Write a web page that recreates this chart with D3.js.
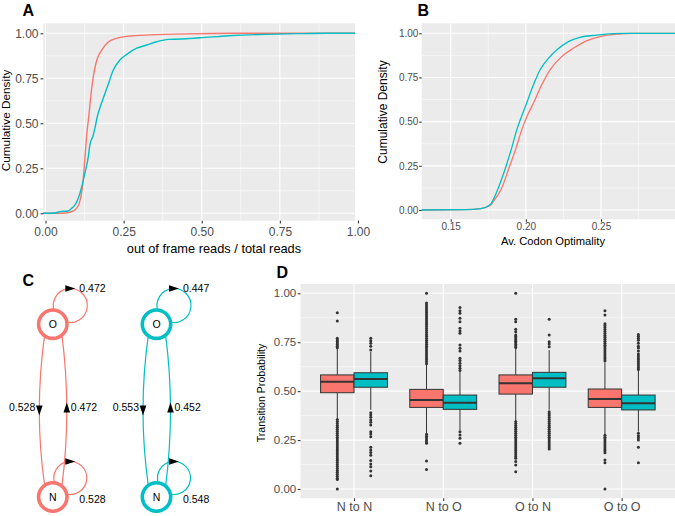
<!DOCTYPE html>
<html><head><meta charset="utf-8">
<script src="https://cdn.jsdelivr.net/npm/d3@7"></script>
<style>body{margin:0;background:#fff}svg{display:block}text{font-family:"Liberation Sans",Arial,Helvetica,sans-serif}</style>
</head><body><svg id="c" width="675" height="516"></svg>
<script>
// ---------- DATA ----------
// Panel A: CDF of out-of-frame reads / total reads  [x, cumulative density]
const oofRed = [[-0.01,0],[0.04,0],[0.07,0.003],[0.078,0.006],[0.094,0.018],[0.108,0.055],[0.116,0.12],[0.121,0.194],[0.126,0.305],[0.132,0.435],[0.139,0.546],[0.145,0.65],[0.153,0.76],[0.164,0.85],[0.18,0.907],[0.2,0.95],[0.228,0.972],[0.27,0.985],[0.334,0.991],[0.45,0.997],[0.6,1.0],[1.05,1.0]];
const oofTeal = [[-0.01,0],[0.03,0.002],[0.046,0.009],[0.073,0.013],[0.084,0.028],[0.094,0.046],[0.105,0.083],[0.116,0.148],[0.126,0.222],[0.137,0.315],[0.142,0.38],[0.153,0.435],[0.158,0.472],[0.167,0.546],[0.177,0.6],[0.185,0.64],[0.2,0.713],[0.217,0.796],[0.238,0.852],[0.26,0.883],[0.292,0.917],[0.324,0.935],[0.356,0.953],[0.393,0.966],[0.43,0.968],[0.494,0.975],[0.6,0.988],[0.708,0.994],[0.81,0.998],[0.9,1.0],[1.05,1.0]];
// Panel B: CDF of average codon optimality
const optRed = [[0.13,0],[0.16,0.002],[0.17,0.008],[0.176,0.024],[0.1783,0.047],[0.1839,0.123],[0.1883,0.226],[0.1934,0.349],[0.1976,0.462],[0.2008,0.53],[0.205,0.604],[0.2105,0.707],[0.216,0.792],[0.2238,0.868],[0.2316,0.915],[0.2404,0.957],[0.2493,0.981],[0.2626,0.996],[0.27,1.0],[0.3,1.0]];
const optTeal = [[0.13,0],[0.16,0.002],[0.17,0.008],[0.176,0.028],[0.1816,0.123],[0.186,0.226],[0.1905,0.349],[0.194,0.455],[0.1972,0.53],[0.2005,0.604],[0.205,0.707],[0.2094,0.792],[0.215,0.858],[0.2205,0.905],[0.2283,0.953],[0.236,0.977],[0.2471,0.99],[0.258,0.998],[0.265,1.0],[0.3,1.0]];
const cdfTicks = [0, 0.25, 0.5, 0.75, 1];
const oofTicks = [0, 0.25, 0.5, 0.75, 1];
const optTicks = [0.15, 0.2, 0.25];

// Panel C: Markov transition probabilities  (O->O, O->N, N->O, N->N)
const transNames = ["OO","ON","NO","NN"];
const redProb  = [0.472, 0.528, 0.472, 0.528];
const tealProb = [0.447, 0.553, 0.452, 0.548];
const stateNames = ["O","N"];

// Panel D: boxplots of transition probability
const cats = ["N to N","N to O","O to N","O to O"];
const redLo  = [0.36, 0.285, 0.35, 0.28];
const redQ1  = [0.492, 0.417, 0.485, 0.417];
const redMed = [0.548, 0.455, 0.54, 0.46];
const redQ3  = [0.583, 0.509, 0.583, 0.511];
const redHi  = [0.72, 0.635, 0.72, 0.648];
const tealLo  = [0.405, 0.30, 0.405, 0.293];
const tealQ1  = [0.52, 0.407, 0.52, 0.404];
const tealMed = [0.562, 0.441, 0.566, 0.438];
const tealQ3  = [0.594, 0.48, 0.596, 0.48];
const tealHi  = [0.70, 0.60, 0.71, 0.605];
const redOut = [
  [0.9,0.858,0.77,0.762,0.754,0.746,0.738,0.73,0.722,
   0.355,0.345,0.335,0.325,0.315,0.305,0.295,0.285,0.275,0.265,0.255,0.245,0.235,0.225,0.215,0.205,0.195,0.185,0.175,0.165,0.155,0.145,0.135,0.125,0.115,0.105,0.095,0.085,0.075,0.065,0.055,0.048,0.0],
  [1.0,0.95,0.94,0.93,0.92,0.91,0.9,0.89,0.88,0.87,0.86,0.85,0.84,0.83,0.82,0.81,0.8,0.79,0.78,0.77,0.76,0.75,0.74,0.73,0.72,0.71,0.7,0.69,0.68,0.67,0.66,0.65,0.64,
   0.28,0.27,0.26,0.25,0.24,0.234,0.143,0.10],
  [1.0,0.867,0.855,0.816,0.804,0.787,0.779,0.771,0.763,0.755,0.747,0.739,0.731,0.723,
   0.345,0.335,0.325,0.315,0.305,0.295,0.285,0.275,0.265,0.255,0.245,0.235,0.225,0.215,0.205,0.195,0.185,0.175,0.165,0.157,0.14,0.123,0.088],
  [0.911,0.889,0.845,0.835,0.825,0.815,0.805,0.795,0.785,0.775,0.765,0.755,0.745,0.735,0.725,0.715,0.705,0.695,0.685,0.675,0.665,0.655,
   0.275,0.265,0.255,0.245,0.235,0.225,0.215,0.205,0.195,0.185,0.148,0.134,0.0]
];
const tealOut = [
  [0.77,0.758,0.745,0.73,0.71,
   0.39,0.378,0.366,0.353,0.341,0.327,0.293,0.281,0.267,0.213,0.199,0.186,0.172,0.145,0.128,0.114,0.092,0.068],
  [0.928,0.911,0.898,0.872,0.855,0.821,0.807,0.796,0.736,0.719,0.705,0.668,0.656,0.642,0.63,0.617,0.605,
   0.293,0.276,0.259,0.234],
  [0.867,0.787,0.753,0.741,0.727,
   0.395,0.385,0.375,0.365,0.355,0.345,0.335,0.325,0.315,0.305,0.295,0.285,0.275,0.265,0.255,0.245,0.235,0.225,0.215,0.205],
  [0.79,0.78,0.77,0.76,0.745,0.73,0.72,0.705,0.69,0.68,0.67,0.66,0.65,0.64,0.63,0.62,0.61,
   0.285,0.272,0.262,0.25,0.213,0.134]
];
const probTicks = [0, 0.25, 0.5, 0.75, 1];

// ---------- STYLE ----------
const RED = "#F8766D", TEAL = "#00BFC4", BG = "#EBEBEB", TXT = "#4D4D4D", TCK = "#333333";
const fmt2 = d3.format(".2f"), fmt3 = d3.format(".3f");
const svg = d3.select("#c");
const defs = svg.append("defs");

function clip(id, r) {
  defs.append("clipPath").attr("id", id).append("rect")
    .attr("x", r.x0).attr("y", r.y0).attr("width", r.x1 - r.x0).attr("height", r.y1 - r.y0);
}
function panelBg(r, clipId, xs, ys, xMaj, xMin, yMaj, yMin) {
  svg.append("rect").attr("x", r.x0).attr("y", r.y0).attr("width", r.x1 - r.x0).attr("height", r.y1 - r.y0).attr("fill", BG);
  const g = svg.append("g").attr("clip-path", `url(#${clipId})`);
  g.selectAll(null).data(yMin).join("line").attr("x1", r.x0).attr("x2", r.x1).attr("y1", d => ys(d)).attr("y2", d => ys(d)).attr("stroke", "#fff").attr("stroke-width", 0.55);
  g.selectAll(null).data(xMin).join("line").attr("y1", r.y0).attr("y2", r.y1).attr("x1", d => xs(d)).attr("x2", d => xs(d)).attr("stroke", "#fff").attr("stroke-width", 0.55);
  g.selectAll(null).data(yMaj).join("line").attr("x1", r.x0).attr("x2", r.x1).attr("y1", d => ys(d)).attr("y2", d => ys(d)).attr("stroke", "#fff").attr("stroke-width", 1.1);
  g.selectAll(null).data(xMaj).join("line").attr("y1", r.y0).attr("y2", r.y1).attr("x1", d => xs(d)).attr("x2", d => xs(d)).attr("stroke", "#fff").attr("stroke-width", 1.1);
  return g;
}
function styleAxis(g, fs) {
  g.attr("font-family", null).attr("font-size", null);
  g.select(".domain").remove();
  g.selectAll(".tick line").attr("stroke", TCK).attr("stroke-width", 1.07);
  g.selectAll(".tick text").attr("fill", TXT).style("font-size", fs + "px")
    .style("font-family", '"Liberation Sans",Arial,Helvetica,sans-serif');
}
function label(txt, x, y, fs, opts = {}) {
  const t = svg.append("text").attr("x", x).attr("y", y).text(txt).style("font-size", fs + "px")
    .attr("text-anchor", opts.anchor || "middle").attr("fill", opts.fill || "#000");
  if (opts.bold) t.style("font-weight", "bold");
  if (opts.rot) t.attr("transform", `rotate(-90,${x},${y})`);
  return t;
}

// ---------- PANEL A ----------
const rA = {x0: 43.3, y0: 23.3, x1: 355, y1: 220.7};
const xA = d3.scaleLinear().domain([0, 1]).range([45.5, 358]);
const yA = d3.scaleLinear().domain([0, 1]).range([213.3, 33.3]);
clip("clipA", rA);
const gA = panelBg(rA, "clipA", xA, yA, oofTicks, [0.125, 0.375, 0.625, 0.875], cdfTicks, [0.125, 0.375, 0.625, 0.875]);
const lineA = d3.line().x(d => xA(d[0])).y(d => yA(d[1])).curve(d3.curveMonotoneX);
gA.append("path").attr("d", lineA(oofRed)).attr("fill", "none").attr("stroke", RED).attr("stroke-width", 1.4);
gA.append("path").attr("d", lineA(oofTeal)).attr("fill", "none").attr("stroke", TEAL).attr("stroke-width", 1.4);
svg.append("g").attr("transform", `translate(${rA.x0},0)`)
  .call(d3.axisLeft(yA).tickValues(cdfTicks).tickFormat(fmt2).tickSize(2.75).tickPadding(2)).call(g => styleAxis(g, 12));
svg.append("g").attr("transform", `translate(0,${rA.y1})`)
  .call(d3.axisBottom(xA).tickValues(oofTicks).tickFormat(fmt2).tickSize(2.75).tickPadding(4)).call(g => styleAxis(g, 12));
label("out of frame reads / total reads", 214, 253, 12.8);
label("Cumulative Density", 9.5, 120.5, 11.8, {rot: true});
label("A", 22.5, 15.5, 16, {anchor: "start", bold: true});

// ---------- PANEL B ----------
const rB = {x0: 421.7, y0: 23.3, x1: 675, y1: 219.3};
const xB = d3.scaleLinear().domain([0.15, 0.25]).range([450.7, 601]);
const yB = d3.scaleLinear().domain([0, 1]).range([210, 33.3]);
clip("clipB", rB);
const gB = panelBg(rB, "clipB", xB, yB, [0.15, 0.2, 0.25, 0.3], [0.125, 0.175, 0.225, 0.275], cdfTicks, [0.125, 0.375, 0.625, 0.875]);
const lineB = d3.line().x(d => xB(d[0])).y(d => yB(d[1])).curve(d3.curveMonotoneX);
gB.append("path").attr("d", lineB(optRed)).attr("fill", "none").attr("stroke", RED).attr("stroke-width", 1.3);
gB.append("path").attr("d", lineB(optTeal)).attr("fill", "none").attr("stroke", TEAL).attr("stroke-width", 1.3);
svg.append("g").attr("transform", `translate(${rB.x0},0)`)
  .call(d3.axisLeft(yB).tickValues(cdfTicks).tickFormat(fmt2).tickSize(2.5).tickPadding(0.8)).call(g => styleAxis(g, 10));
svg.append("g").attr("transform", `translate(0,${rB.y1})`)
  .call(d3.axisBottom(xB).tickValues(optTicks).tickFormat(fmt2).tickSize(2.5).tickPadding(1.2)).call(g => styleAxis(g, 10));
label("Av. Codon Optimality", 553, 245, 11.2);
label("Cumulative Density", 386.5, 112, 12, {rot: true});
label("B", 417.5, 15.5, 16, {anchor: "start", bold: true});

// ---------- PANEL C ----------
label("C", 22.5, 285.5, 16, {anchor: "start", bold: true});
const gC = svg.append("g");
const chains = [{cx: 52.8, col: RED, p: redProb}, {cx: 156.5, col: TEAL, p: tealProb}];
const yO = 324.2, yN = 497;
const nodeY = {O: yO, N: yN};
const arrow = "M5,0 L-5,-3.3 L-5,3.3 Z";
chains.forEach(ch => {
  const cx = ch.cx, pr = {};
  transNames.forEach((n, i) => pr[n] = ch.p[i]);
  const g = gC.append("g");
  const midY = (yO + yN) / 2;
  g.append("path").attr("d", `M${cx - 8},${yO + 10} Q${cx - 19},${midY} ${cx - 8},${yN - 10}`).attr("fill", "none").attr("stroke", ch.col).attr("stroke-width", 1.2);
  g.append("path").attr("d", `M${cx + 9},${yN - 10} Q${cx + 19},${midY} ${cx + 9},${yO + 10}`).attr("fill", "none").attr("stroke", ch.col).attr("stroke-width", 1.2);
  g.append("path").attr("d", arrow).attr("transform", `translate(${cx - 13.5},${midY}) rotate(90)`).attr("fill", "#000");
  g.append("path").attr("d", arrow).attr("transform", `translate(${cx + 14},${midY - 3}) rotate(-90)`).attr("fill", "#000");
  stateNames.forEach(s => {
    const lx = cx + 17.5, ly = s === "O" ? yO - 18.7 : yN - 19, r = s === "O" ? 17 : 16.5;
    const a0 = 160 * Math.PI / 180, a1 = 110 * Math.PI / 180;
    const p0 = [lx + r * Math.cos(a0), ly + r * Math.sin(a0)], p1 = [lx + r * Math.cos(a1), ly + r * Math.sin(a1)];
    g.append("path").attr("d", `M${p0[0]},${p0[1]} A${r},${r} 0 1 1 ${p1[0]},${p1[1]}`).attr("fill", "none").attr("stroke", ch.col).attr("stroke-width", 1.2);
    g.append("path").attr("d", arrow).attr("transform", `translate(${lx},${ly - r})`).attr("fill", "#000");
  });
  stateNames.forEach(s => {
    g.append("circle").attr("cx", cx).attr("cy", nodeY[s]).attr("r", 14.2).attr("fill", "#fff").attr("stroke", ch.col).attr("stroke-width", 3.6);
    g.append("text").attr("x", cx).attr("y", nodeY[s] + 3.8).attr("text-anchor", "middle").style("font-size", "10.5px").text(s);
  });
  const lab = (t, x, y, a) => g.append("text").attr("x", x).attr("y", y).attr("text-anchor", a).style("font-size", "10.5px").text(t);
  lab(fmt3(pr.OO), cx + 26.5, 292, "start");
  lab(fmt3(pr.NN), cx + 26.5, 503, "start");
  lab(fmt3(pr.ON), cx - 17.5, 410.5, "end");
  lab(fmt3(pr.NO), cx + 18, 410.5, "start");
});

// ---------- PANEL D ----------
const rD = {x0: 300.5, y0: 284, x1: 675, y1: 498.3};
const xD = d3.scalePoint().domain(cats).range([300.5, 675.2]).padding(0.6);
const yD = d3.scaleLinear().domain([0, 1]).range([489, 293.3]);
clip("clipD", rD);
const xDpos = d => xD(d);
panelBg(rD, "clipD", xDpos, yD, cats, [], probTicks, [0.125, 0.375, 0.625, 0.875]);
const hw = xD.step() * 0.375;
const gD = svg.append("g");
const series = [
  {col: RED, side: -1, lo: redLo, q1: redQ1, med: redMed, q3: redQ3, hi: redHi, out: redOut},
  {col: TEAL, side: 1, lo: tealLo, q1: tealQ1, med: tealMed, q3: tealQ3, hi: tealHi, out: tealOut}
];
series.forEach(s => {
  cats.forEach((c, i) => {
    const xc = xD(c) + s.side * hw / 2;
    const x0 = xc - hw / 2;
    gD.append("line").attr("x1", xc).attr("x2", xc).attr("y1", yD(s.hi[i])).attr("y2", yD(s.q3[i])).attr("stroke", TCK).attr("stroke-width", 1);
    gD.append("line").attr("x1", xc).attr("x2", xc).attr("y1", yD(s.q1[i])).attr("y2", yD(s.lo[i])).attr("stroke", TCK).attr("stroke-width", 1);
    gD.append("rect").attr("x", x0).attr("width", hw).attr("y", yD(s.q3[i])).attr("height", yD(s.q1[i]) - yD(s.q3[i]))
      .attr("fill", s.col).attr("stroke", TCK).attr("stroke-width", 1);
    gD.append("line").attr("x1", x0).attr("x2", x0 + hw).attr("y1", yD(s.med[i])).attr("y2", yD(s.med[i])).attr("stroke", TCK).attr("stroke-width", 1.9);
    gD.selectAll(null).data(s.out[i]).join("circle").attr("cx", xc).attr("cy", d => yD(d)).attr("r", 1.5).attr("fill", TCK);
  });
});
svg.append("g").attr("transform", `translate(${rD.x0},0)`)
  .call(d3.axisLeft(yD).tickValues(probTicks).tickFormat(fmt2).tickSize(2.75).tickPadding(1.5)).call(g => styleAxis(g, 11.5));
svg.append("g").attr("transform", `translate(0,${rD.y1})`)
  .call(d3.axisBottom(xD).tickSize(2.75).tickPadding(0.8)).call(g => styleAxis(g, 12.5));
label("Transition Probability", 265, 393, 10.6, {rot: true});
label("D", 276.5, 277.5, 16, {anchor: "start", bold: true});
</script>
</body></html>
